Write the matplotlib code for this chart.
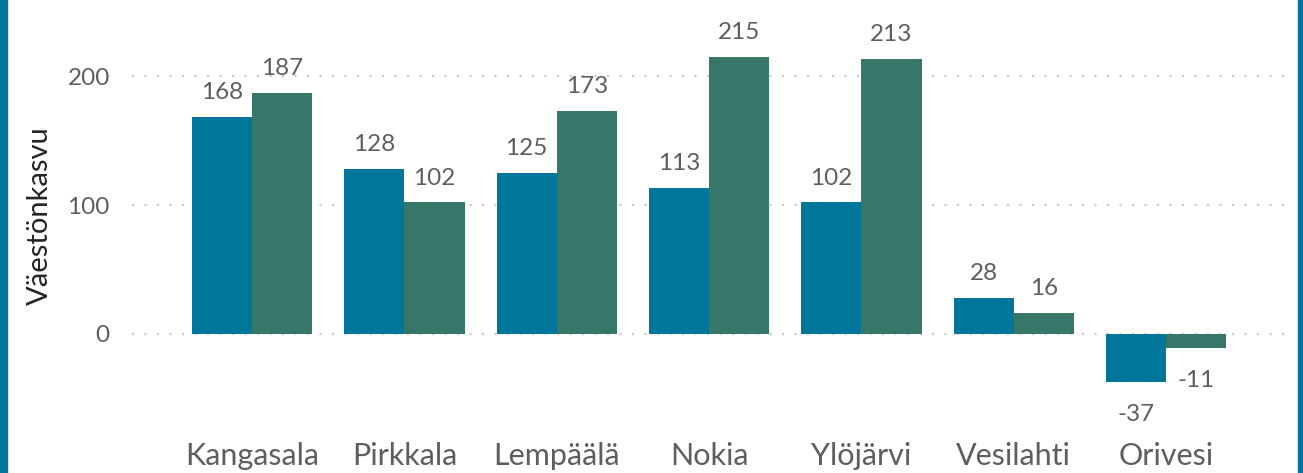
import matplotlib
matplotlib.use("Agg")
import matplotlib.pyplot as plt
import numpy as np

# Data
kunnat = ["Kangasala", "Pirkkala", "Lempäälä", "Nokia", "Ylöjärvi", "Vesilahti", "Orivesi"]
sarja1 = [168, 128, 125, 113, 102, 28, -37]
sarja2 = [187, 102, 173, 215, 213, 16, -11]
y_ticks = [0, 100, 200]

BLUE = "#00779A"
GREEN = "#36776A"
GREY = "#605E5C"

plt.rcParams["font.family"] = ["Lato", "DejaVu Sans"]

fig = plt.figure(figsize=(13.03, 4.73), dpi=100)
ax = fig.add_axes([132 / 1303, 1 - 411.4 / 473, (1285 - 132) / 1303, (411.4 - 37.3) / 473])

x = np.arange(len(kunnat))
w = 0.395
b1 = ax.bar(x - w / 2, sarja1, w, color=BLUE, zorder=2)
b2 = ax.bar(x + w / 2, sarja2, w, color=GREEN, zorder=2)

for bars, vals in ((b1, sarja1), (b2, sarja2)):
    for rect, v in zip(bars, vals):
        cx = rect.get_x() + rect.get_width() / 2
        if v >= 0:
            ax.annotate(str(v), (cx, v), xytext=(0, 10), textcoords="offset points",
                        ha="center", va="bottom", fontsize=17.5, color=GREY)
        else:
            ax.annotate(str(v), (cx, v), xytext=(0, -16), textcoords="offset points",
                        ha="center", va="top", fontsize=17.5, color=GREY)

ax.set_xlim(-0.788, len(kunnat) - 1 + 0.78)
ax.set_ylim(-60, 230)
ax.set_yticks(y_ticks)
ax.set_xticks(x)
ax.set_xticklabels(kunnat)
ax.grid(axis="y", color="#C8C8C8", linestyle=(0, (1, 5)), linewidth=1.5, zorder=0)
for s in ax.spines.values():
    s.set_visible(False)
ax.tick_params(axis="both", length=0, colors=GREY)
ax.tick_params(axis="x", labelsize=22, pad=22)
ax.tick_params(axis="y", labelsize=17.5, pad=16)

fig.text(40 / 1303, 1 - 216 / 473, "Väestönkasvu", rotation=90, ha="center", va="center",
         fontsize=21, color="#252423")

# teal side borders
fig.patches.append(plt.Rectangle((0, 0), 7 / 1303, 1, transform=fig.transFigure, color=BLUE))
fig.patches.append(plt.Rectangle((1 - 5 / 1303, 0), 5 / 1303, 1, transform=fig.transFigure, color=BLUE))

fig.savefig("out.png", dpi=100)
